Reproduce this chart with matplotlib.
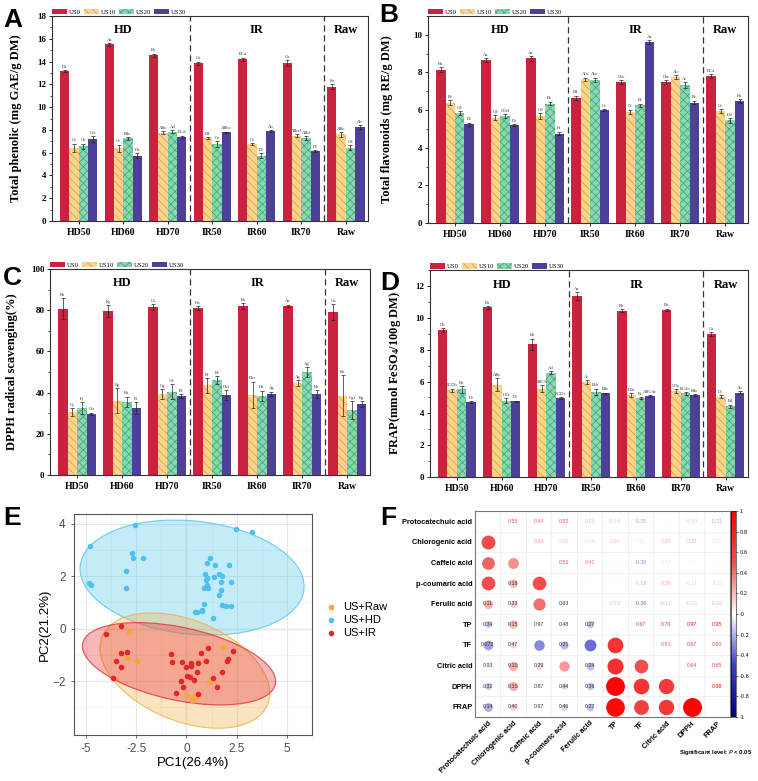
import matplotlib
matplotlib.use('Agg')
import matplotlib.pyplot as plt
import numpy as np
from matplotlib.patches import Ellipse
from matplotlib.colors import LinearSegmentedColormap, Normalize
from matplotlib.cm import ScalarMappable

plt.rcParams['hatch.linewidth'] = 0.6
plt.rcParams['mathtext.default'] = 'regular'
SERIF = 'Liberation Serif'
SANS = 'Liberation Sans'

groups = ['HD50', 'HD60', 'HD70', 'IR50', 'IR60', 'IR70', 'Raw']
series = ['US0', 'US10', 'US20', 'US30']

# Total phenolic (rows = US0, US10, US20, US30)
tp_mean = [[13.15, 15.5, 14.55, 13.85, 14.2, 13.85, 11.8],
           [6.45, 6.4, 7.75, 7.3, 6.75, 7.5, 7.6],
           [6.55, 7.25, 7.85, 6.75, 5.75, 7.3, 6.45],
           [7.2, 5.75, 7.4, 7.8, 7.9, 6.15, 8.25]]
tp_err = [[0.1, 0.15, 0.15, 0.15, 0.15, 0.25, 0.2],
          [0.35, 0.3, 0.15, 0.1, 0.1, 0.1, 0.2],
          [0.25, 0.15, 0.1, 0.25, 0.2, 0.15, 0.2],
          [0.25, 0.2, 0.1, 0.05, 0.1, 0.1, 0.15]]
tp_letters = [['Da', 'Aa', 'Ba', 'Ca', 'BCa', 'Ca', 'Ea'],
              ['Ce', 'Ce', 'ABc', 'Bd', 'Ce', 'ABcd', 'ABc'],
              ['Cb', 'Bde', 'Ad', 'Ce', 'Df', 'ABd', 'Cd'],
              ['Cef', 'Db', 'BCd', 'ABbc', 'Ab', 'Df', 'Ab']]

# Total flavonoids
tf_mean = [[8.15, 8.65, 8.75, 6.65, 7.5, 7.5, 7.8],
           [6.4, 5.6, 5.7, 7.65, 5.9, 7.75, 5.95],
           [5.85, 5.7, 6.35, 7.6, 6.25, 7.35, 5.45],
           [5.25, 5.2, 4.75, 6.0, 9.6, 6.4, 6.5]]
tf_err = [[0.15, 0.12, 0.12, 0.12, 0.1, 0.1, 0.1],
          [0.12, 0.12, 0.15, 0.08, 0.12, 0.12, 0.1],
          [0.1, 0.1, 0.1, 0.12, 0.1, 0.15, 0.12],
          [0.08, 0.05, 0.1, 0.05, 0.1, 0.1, 0.1]]
tf_letters = [['Bb', 'Aa', 'Aa', 'Bd', 'Cbc', 'Cbc', 'BCa'],
              ['Bc', 'Cd', 'Cd', 'Abc', 'Cf', 'Ab', 'Cc'],
              ['Cd', 'CDd', 'Bc', 'Abc', 'Be', 'Ac', 'Dd'],
              ['De', 'De', 'Ef', 'Cf', 'Aa', 'Be', 'Bb']]

# DPPH radical scavenging
dpph_mean = [[80.8, 79.5, 81.5, 81.0, 82.0, 82.2, 79.0],
             [30.5, 36.0, 39.2, 43.5, 38.8, 44.5, 38.5],
             [32.5, 35.5, 40.5, 46.0, 38.5, 50.0, 31.5],
             [29.8, 32.5, 38.2, 38.8, 39.5, 39.2, 34.5]]
dpph_err = [[5, 3, 1.5, 1, 1.5, 0.5, 4],
            [2, 6, 2.5, 3.5, 6.5, 1.5, 10],
            [3, 2.5, 3.5, 2, 2.5, 2.5, 4.5],
            [0.5, 3, 1, 2.5, 1, 2, 1.5]]
dpph_letters = [['Eb', 'Fg', 'Ca', 'Db', 'Ba', 'Aa', 'Ga'],
                ['Gj', 'Eg', 'Cg', 'Bf', 'Dbc', 'Ag', 'Eb'],
                ['Fj', 'Eh', 'Cd', 'Be', 'Bb', 'Ag', 'Cgf'],
                ['Gh', 'Fi', 'Bf', 'Cbl', 'Ag', 'Bb', 'Eg']]

# FRAP
frap_mean = [[9.25, 10.65, 8.35, 11.35, 10.45, 10.5, 9.0],
             [5.45, 5.8, 5.55, 5.95, 5.15, 5.4, 5.05],
             [5.5, 4.8, 6.55, 5.35, 4.95, 5.25, 4.45],
             [4.7, 4.75, 4.95, 5.25, 5.1, 5.15, 5.3]]
frap_err = [[0.12, 0.08, 0.35, 0.25, 0.08, 0.08, 0.12],
            [0.1, 0.4, 0.2, 0.12, 0.1, 0.1, 0.08],
            [0.2, 0.15, 0.1, 0.2, 0.05, 0.1, 0.1],
            [0.05, 0.05, 0.05, 0.05, 0.05, 0.05, 0.1]]
frap_letters = [['Cb', 'Ba', 'Bb', 'Aa', 'Bb', 'Bb', 'Ca'],
                ['BCDb', 'ABc', 'ABCb', 'Ac', 'Dde', 'CDe', 'Dc'],
                ['Bb', 'DEf', 'Ad', 'Bcb', 'Ee', 'BCde', 'Ed'],
                ['Df', 'Df', 'BCDf', 'Bde', 'ABCde', 'Bde', 'Ab']]

# PCA scores
hd_pc1 = [-2.55, -4.8, -2.7, -2.65, -2.15, -3.0, -4.85, -4.75, -3.0, 2.45, 3.25,
          1.15, 1.0, 1.4, 2.1, 0.9, 1.6, 1.75, 1.35, 1.0, 2.2, 1.7, 1.0, 0.85,
          1.05, 1.7, 1.6, 0.85, 1.75, 1.95, 2.2, 0.75, 0.5, 1.3, 0.95, 0.42, 0.79]
hd_pc2 = [3.95, 3.15, 2.9, 2.7, 2.68, 2.2, 1.75, 1.68, 1.55, 3.8, 3.7,
          2.7, 2.5, 2.42, 2.42, 2.1, 2.07, 2.0, 1.97, 1.92, 1.78, 1.78, 1.65, 1.55,
          1.55, 1.48, 1.27, 0.95, 0.9, 0.88, 0.85, 0.72, 0.62, 0.42, 1.85, 0.62, 0.68]
ir_pc1 = [-3.27, -3.99, -3.27, -2.94, -3.49, -3.25, -3.66, -0.79, -0.74, -0.21,
          0.21, 0.24, -0.04, 0.57, 0.7, 0.95, 1.07, 0.54, 0.04, 0.17, -0.26, 0.37,
          1.33, 1.78, 2.0, 2.07, 2.33, -0.16, -0.54, 0.57, 1.5]
ir_pc2 = [0.11, -0.2, -0.94, -0.88, -1.25, -1.47, -1.89, -0.98, -1.28, -1.28,
          -1.32, -1.42, -1.47, -1.32, -0.93, -1.24, -0.74, -1.64, -1.81, -1.83, -1.99, -1.97,
          -1.9, -1.64, -1.24, -1.14, -0.87, -2.24, -2.47, -2.5, -2.24]
raw_pc1 = [-2.86, -2.94, -2.45, 1.82, 0.54, 1.12, -0.04, 0.29, 0.41]
raw_pc2 = [-0.11, -1.13, -1.24, -0.71, -1.24, -2.02, -2.53, -2.72, -2.62]
# confidence ellipses: centre x, centre y, width, height, angle
ell_hd = [0.28, 1.95, 11.18, 4.33, -4.1]
ell_raw = [-0.08, -1.6, 8.68, 3.95, -14.6]
ell_ir = [-0.37, -1.34, 9.72, 2.81, -8.7]

# Correlation matrix
corr_vars = ['Protocatechuic acid', 'Chlorogenic acid', 'Caffeic acid', 'p-coumaric acid',
             'Ferulic acid', 'TP', 'TF', 'Citric acid', 'DPPH', 'FRAP']
corr_r = [[1, 0.53, 0.44, 0.52, 0.23, -0.14, -0.25, 0.004, -0.14, -0.21],
          [0.53, 1, 0.32, 0.20, 0.14, 0.20, 0.11, 0.23, 0.23, 0.13],
          [0.44, 0.32, 1, 0.51, 0.41, -0.007, -0.30, 0.13, 0.02, -0.005],
          [0.52, 0.20, 0.51, 1, 0.003, -0.003, -0.18, 0.29, -0.11, -0.11],
          [0.23, 0.14, 0.41, 0.003, 1, -0.15, -0.38, -0.17, -0.15, -0.16],
          [-0.14, 0.20, -0.007, -0.003, -0.15, 1, 0.67, 0.70, 0.97, 0.95],
          [-0.25, 0.11, -0.30, -0.18, -0.38, 0.67, 1, 0.51, 0.67, 0.60],
          [0.004, 0.23, 0.13, 0.29, -0.17, 0.70, 0.51, 1, 0.64, 0.65],
          [-0.14, 0.23, 0.02, -0.11, -0.15, 0.97, 0.67, 0.64, 1, 0.98],
          [-0.21, 0.13, -0.005, -0.11, -0.16, 0.95, 0.60, 0.65, 0.98, 1]]
# p-values shown in the lower triangle (None = significant)
corr_p = [[],
          [None],
          [None, None],
          [None, 0.16, None],
          [0.11, 0.33, None, 0.63],
          [0.34, 0.15, 0.97, 0.48, 0.27],
          [0.072, 0.47, None, 0.21, None, None],
          [0.93, 0.10, 0.29, None, 0.24, None, None],
          [0.32, 0.10, 0.87, 0.44, 0.36, None, None, None],
          [0.14, 0.40, 0.97, 0.46, 0.27, None, None, None, None]]

face = ['#C9233F', '#F9D48E', '#8DD5B2', '#4E3F9B']
hcol = ['#C9233F', '#E9A23B', '#3FAE7C', '#4E3F9B']
hatches = ['', r'\\\\', 'xxxx', '']

fig = plt.figure(figsize=(7.58, 7.81), dpi=100)


def bar_panel(rect, means, errs, letters, ylim, ystep, ylabel, labx):
    ax = fig.add_axes(rect)
    x = np.arange(len(groups))
    w = 0.21
    pad = ylim * 0.006
    for k, s in enumerate(series):
        xs = x + (k - 1.5) * w
        ax.bar(xs, means[k], w, color=face[k], edgecolor=hcol[k], hatch=hatches[k],
               linewidth=0, label=s, zorder=2)
        ax.errorbar(xs, means[k], yerr=errs[k], fmt='none', ecolor='#222222',
                    elinewidth=0.5, capsize=1.2, capthick=0.5, zorder=3)
        for xi, m, e, t in zip(xs, means[k], errs[k], letters[k]):
            ax.text(xi, m + e + pad, t, ha='center', va='bottom', fontsize=3.3,
                    family=SERIF, color='#333333')
    ax.axvline(2.5, color='#333333', ls=(0, (5, 3)), lw=0.9)
    ax.axvline(5.5, color='#333333', ls=(0, (5, 3)), lw=0.9)
    tr = ax.get_xaxis_transform()
    for gx, g in zip([1, 4, 6], ['HD', 'IR', 'Raw']):
        ax.text(gx, 0.93, g, transform=tr, ha='center', va='center', fontsize=9,
                fontweight='bold', family=SERIF)
    ax.set_xlim(-0.6, 6.5)
    ax.set_ylim(0, ylim)
    ax.set_yticks(np.arange(0, ylim + 0.01, ystep))
    ax.set_yticks(np.arange(0, ylim + 0.01, ystep / 2), minor=True)
    ax.set_xticks(x)
    ax.set_xticklabels(groups)
    for lab in ax.get_xticklabels() + ax.get_yticklabels():
        lab.set_family(SERIF)
        lab.set_fontweight('bold')
    ax.tick_params(axis='x', labelsize=7, length=2, width=0.6, pad=3)
    ax.tick_params(axis='y', labelsize=6.5, length=2.5, width=0.6, pad=1.5)
    ax.tick_params(axis='y', which='minor', length=1.3, width=0.5)
    for sp in ax.spines.values():
        sp.set_linewidth(0.8)
        sp.set_color('#333333')
    ax.set_ylabel(ylabel, fontsize=9, fontweight='bold', family=SERIF)
    ax.yaxis.set_label_coords(labx, 0.5)
    ax.legend(loc='lower left', bbox_to_anchor=(0.0, 1.005), ncol=4, frameon=False,
              prop={'family': SERIF, 'size': 4.8}, handlelength=2.3,
              handleheight=0.9, columnspacing=0.4, handletextpad=0.25,
              borderaxespad=0, borderpad=0)
    return ax


bar_panel([0.0686, 0.717, 0.417, 0.2625], tp_mean, tp_err, tp_letters, 18, 2,
          'Total phenolic (mg GAE/g DM)', -0.095)
bar_panel([0.5646, 0.7145, 0.422, 0.265], tf_mean, tf_err, tf_letters, 11, 2,
          'Total flavonoids (mg RE/g DM)', -0.11)
bar_panel([0.066, 0.3918, 0.422, 0.2638], dpph_mean, dpph_err, dpph_letters, 100, 20,
          'DPPH radical scavenging(%)', -0.10)
bar_panel([0.5673, 0.3892, 0.4195, 0.265], frap_mean, frap_err, frap_letters, 13, 2,
          'FRAP(mmol FeSO$_4$/100g DM)', -0.085)

# ---- E: PCA ----
axE = fig.add_axes([0.0976, 0.0589, 0.314, 0.283])
axE.set_xlim(-5.6, 6.25)
axE.set_ylim(-4.06, 4.38)
axE.set_xticks([-5, -2.5, 0, 2.5, 5])
axE.set_xticklabels(['-5', '-2.5', '0', '2.5', '5'])
axE.set_yticks([-2, 0, 2, 4])
axE.set_xticks([-3.75, -1.25, 1.25, 3.75], minor=True)
axE.set_yticks([-3, -1, 1, 3], minor=True)
axE.grid(True, which='major', color='#E6E6E6', lw=0.8, zorder=0)
axE.grid(True, which='minor', color='#F0F0F0', lw=0.5, zorder=0)
axE.axhline(0, color='#9A9A9A', lw=0.8, zorder=1)
axE.axvline(0, color='#9A9A9A', lw=0.8, zorder=1)
ell_specs = [(ell_hd, '#5BC8F0'), (ell_raw, '#F0B24A'), (ell_ir, '#E8343A')]
for (cx, cy, ew, eh, ang), c in ell_specs:
    axE.add_patch(Ellipse((cx, cy), ew, eh, angle=ang, facecolor=c, alpha=0.35,
                          edgecolor='none', zorder=2))
    axE.add_patch(Ellipse((cx, cy), ew, eh, angle=ang, facecolor='none', edgecolor=c,
                          lw=0.9, alpha=0.8, zorder=2))
axE.scatter(hd_pc1, hd_pc2, s=16, color='#4FC1EE', zorder=3, lw=0, label='US+HD')
axE.scatter(raw_pc1, raw_pc2, s=16, color='#F2A83A', zorder=3, lw=0, label='US+Raw')
axE.scatter(ir_pc1, ir_pc2, s=16, color='#E5242C', zorder=4, lw=0, label='US+IR')
for sp in axE.spines.values():
    sp.set_color('#555555')
    sp.set_linewidth(0.8)
axE.tick_params(which='major', labelsize=8.5, length=2.5, width=0.6, colors='#4D4D4D',
                labelcolor='#4D4D4D')
axE.tick_params(which='minor', length=0)
for lab in axE.get_xticklabels() + axE.get_yticklabels():
    lab.set_family(SANS)
axE.set_xlabel('PC1(26.4%)', fontsize=9.5, family=SANS, labelpad=1)
axE.set_ylabel('PC2(21.2%)', fontsize=9.5, family=SANS, labelpad=1)
h, l = axE.get_legend_handles_labels()
order = [1, 0, 2]
axE.legend([h[i] for i in order], [l[i] for i in order], loc='center left',
           bbox_to_anchor=(1.01, 0.52), frameon=False, prop={'family': SANS, 'size': 8},
           handletextpad=0.1, labelspacing=0.25, borderpad=0, markerscale=1.0)

# ---- F: correlation ----
cmap = LinearSegmentedColormap.from_list(
    'corr', ['#00007F', '#3C3CC8', '#FFFFFF', '#F05050', '#FF0000'])
norm = Normalize(-1, 1)
axF = fig.add_axes([0.6266, 0.0819, 0.3364, 0.2638])
n = len(corr_vars)
axF.set_xlim(-0.5, n - 0.5)
axF.set_ylim(n - 0.5, -0.5)
for v in np.arange(0.5, n - 0.5, 1):
    axF.axhline(v, color='#EBEBEB', lw=0.5, zorder=0)
    axF.axvline(v, color='#EBEBEB', lw=0.5, zorder=0)
for i in range(n):
    for j in range(n):
        r = corr_r[i][j]
        if j > i:
            txt = '%.3f' % r if abs(r) < 0.01 else '%.2f' % r
            axF.text(j, i, txt, ha='center', va='center', fontsize=3.8,
                     color=cmap(norm(r)), family=SANS)
        elif j < i:
            axF.scatter(j, i, s=190 * abs(r), color=cmap(norm(r)), lw=0, zorder=2)
            p = corr_p[i][j]
            if p is not None:
                ptxt = '%.3f' % p if p < 0.1 else '%.2f' % p
                axF.text(j, i, ptxt, ha='center', va='center', fontsize=3.8,
                         color='#333333', family=SANS, zorder=3)
axF.set_xticks(range(n))
axF.set_yticks(range(n))
axF.set_yticklabels(corr_vars, fontsize=5.3, fontweight='bold', family=SANS)
axF.set_xticklabels(corr_vars, fontsize=5.3, fontweight='bold', family=SANS,
                    rotation=45, ha='right', rotation_mode='anchor')
axF.tick_params(length=0, pad=2)
for sp in axF.spines.values():
    sp.set_color('#777777')
    sp.set_linewidth(0.8)
cax = fig.add_axes([0.9644, 0.0819, 0.0066, 0.2638])
cb = fig.colorbar(ScalarMappable(norm=norm, cmap=cmap), cax=cax)
cb.set_ticks(np.round(np.arange(-1, 1.01, 0.2), 1))
cb.set_ticklabels(['%g' % t for t in np.round(np.arange(-1, 1.01, 0.2), 1)])
cb.ax.tick_params(labelsize=3.6, length=1.5, width=0.4, pad=1)
cb.outline.set_linewidth(0.4)
fig.text(0.992, 0.036, 'Significant level: $\\it{P}$ < 0.05', ha='right', va='center',
         fontsize=4.3, fontweight='bold', family=SANS)

# panel letters
for lx, ly, t in [(3, 27, 'A'), (379, 22, 'B'), (3, 285, 'C'), (380, 290, 'D'),
                  (3, 525, 'E'), (380, 525, 'F')]:
    fig.text(lx / 758, 1 - ly / 781, t, fontsize=19, fontweight='bold', family=SANS,
             va='baseline', ha='left')

fig.savefig('out.png', dpi=100)
